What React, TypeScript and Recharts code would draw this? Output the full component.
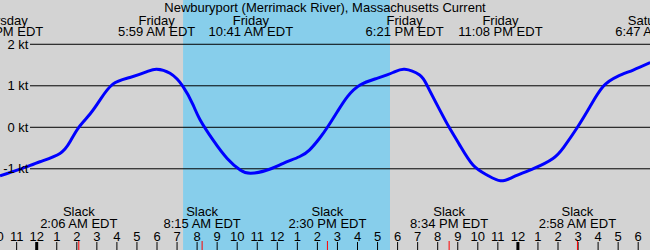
import React from 'react';
import { ComposedChart, Line, XAxis, YAxis, ReferenceArea, ReferenceLine } from 'recharts';

const title = 'Newburyport (Merrimack River), Massachusetts Current';

// hours from Friday midnight
const hours = [-1.83, -0.83, 0.16, 1.16, 1.66, 2.1, 2.66, 3.16, 3.8, 4.65, 5.5, 5.98, 6.65, 7.3, 7.8, 8.14, 8.8, 9.5, 10.15, 10.68, 11.5, 12.3, 13.1, 13.6, 14.1, 14.5, 15.0, 15.5, 16.13, 16.97, 17.77, 18.35, 19.1, 19.5, 20.1, 20.57, 21.1, 21.76, 22.46, 23.13, 23.8, 24.8, 25.75, 26.3, 26.97, 27.6, 28.25, 28.95, 29.75, 30.6];
const current = [-1.17, -1.01, -0.83, -0.63, -0.35, 0, 0.32, 0.66, 1.04, 1.2, 1.34, 1.4, 1.3, 0.98, 0.54, 0.19, -0.31, -0.75, -1.03, -1.11, -1.03, -0.87, -0.71, -0.55, -0.27, 0, 0.38, 0.74, 1.02, 1.18, 1.32, 1.4, 1.26, 0.98, 0.42, 0, -0.43, -0.91, -1.15, -1.29, -1.19, -0.99, -0.75, -0.47, 0, 0.5, 0.98, 1.22, 1.38, 1.56];

const maxTimes = [-1.8, 5.98, 10.68, 18.35, 23.13, 30.78];
const maxDays = ['Thursday', 'Friday', 'Friday', 'Friday', 'Friday', 'Saturday'];
const maxLabels = ['10:12 PM EDT', '5:59 AM EDT', '10:41 AM EDT', '6:21 PM EDT', '11:08 PM EDT', '6:47 AM EDT'];

const slackTimes = [2.1, 8.25, 14.5, 20.57, 26.97];
const slackLabels = ['2:06 AM EDT', '8:15 AM EDT', '2:30 PM EDT', '8:34 PM EDT', '2:58 AM EDT'];

const hourTicks = [-2, -1, 0, 1, 2, 3, 4, 5, 6, 7, 8, 9, 10, 11, 12, 13, 14, 15, 16, 17, 18, 19, 20, 21, 22, 23, 24, 25, 26, 27, 28, 29, 30];
const hourLabels = ['10', '11', '12', '1', '2', '3', '4', '5', '6', '7', '8', '9', '10', '11', '12', '1', '2', '3', '4', '5', '6', '7', '8', '9', '10', '11', '12', '1', '2', '3', '4', '5', '6'];

const speedTicks = [2, 1, 0, -1];
const daylight = [7.3, 17.62];

const data = hours.map((h, i) => ({ h, v: current[i] }));

const FONT = 'Liberation Sans';
const FS = 13;

const HourTick = (props: any) => {
  const { x, payload } = props;
  const idx = hourTicks.indexOf(payload.value);
  const midnight = payload.value % 24 === 0;
  return (
    <g>
      <text x={x} y={240.5} textAnchor="middle" fontSize={FS} fontFamily={FONT} fill="#000">{hourLabels[idx]}</text>
      <line x1={x} x2={x} y1={242} y2={250} stroke="#000" strokeWidth={midnight ? 3 : 1} />
    </g>
  );
};

const SlackTick = (props: any) => {
  const { x, payload } = props;
  const idx = slackTimes.indexOf(payload.value);
  return (
    <g>
      <text x={x} y={216} textAnchor="middle" fontSize={FS} fontFamily={FONT} fill="#000">Slack</text>
      <text x={x} y={228} textAnchor="middle" fontSize={FS} fontFamily={FONT} fill="#000">{slackLabels[idx]}</text>
      <line x1={x} x2={x} y1={241} y2={250} stroke="#ff0000" strokeWidth={1} />
    </g>
  );
};

const MaxTick = (props: any) => {
  const { x, payload } = props;
  const idx = maxTimes.indexOf(payload.value);
  return (
    <g>
      <text x={x} y={24.5} textAnchor="middle" fontSize={FS} fontFamily={FONT} fill="#000">{maxDays[idx]}</text>
      <text x={x} y={36} textAnchor="middle" fontSize={FS} fontFamily={FONT} fill="#000">{maxLabels[idx]}</text>
    </g>
  );
};

const SpeedTick = (props: any) => {
  const { y, payload } = props;
  return (
    <text x={28.5} y={y + 4.3} textAnchor="end" fontSize={FS} fontFamily={FONT} fill="#000">{`${payload.value} kt`}</text>
  );
};

export default function App() {
  return (
    <div style={{ width: 650, height: 250, background: '#d3d3d3', position: 'relative', overflow: 'hidden' }}>
      <style>{`body{margin:0;}`}</style>
      <ComposedChart
        width={650}
        height={250}
        data={data}
        margin={{ top: -1, bottom: -2, left: -24.45, right: -28.3 }}
      >
        <XAxis xAxisId="t" dataKey="h" type="number" domain={[-3, 32]} allowDataOverflow hide />
        <XAxis xAxisId="hours" dataKey="h" type="number" domain={[-3, 32]} allowDataOverflow orientation="bottom" height={1}
          ticks={hourTicks} interval={0} axisLine={false} tickLine={false} tick={<HourTick />} />
        <XAxis xAxisId="slack" dataKey="h" type="number" domain={[-3, 32]} allowDataOverflow orientation="bottom" height={1}
          ticks={slackTimes} interval={0} axisLine={false} tickLine={false} tick={<SlackTick />} />
        <XAxis xAxisId="max" dataKey="h" type="number" domain={[-3, 32]} allowDataOverflow orientation="top" height={1}
          ticks={maxTimes} interval={0} axisLine={false} tickLine={false} tick={<MaxTick />} />
        <YAxis type="number" domain={[-2.957, 3.067]} allowDataOverflow width={1} ticks={speedTicks} interval={0}
          axisLine={false} tickLine={false} tick={<SpeedTick />} />
        <ReferenceArea xAxisId="t" x1={daylight[0]} x2={daylight[1]} y1={-2.957} y2={3.067} fill="#87ceeb" fillOpacity={1} stroke="none" ifOverflow="visible" />
        {speedTicks.map((s) => (
          <ReferenceLine key={s} xAxisId="t" segment={[{ x: -0.334, y: s }, { x: 32, y: s }]} stroke="#000" strokeWidth={1} ifOverflow="visible" />
        ))}
        <Line xAxisId="t" dataKey="v" type="natural" stroke="#0000ff" strokeWidth={3} dot={false} isAnimationActive={false} />
      </ComposedChart>
      <div style={{ position: 'absolute', left: 0, top: 0, width: 650, textAlign: 'center', fontFamily: FONT, fontSize: FS, lineHeight: '15px', color: '#000' }}>{title}</div>
    </div>
  );
}
